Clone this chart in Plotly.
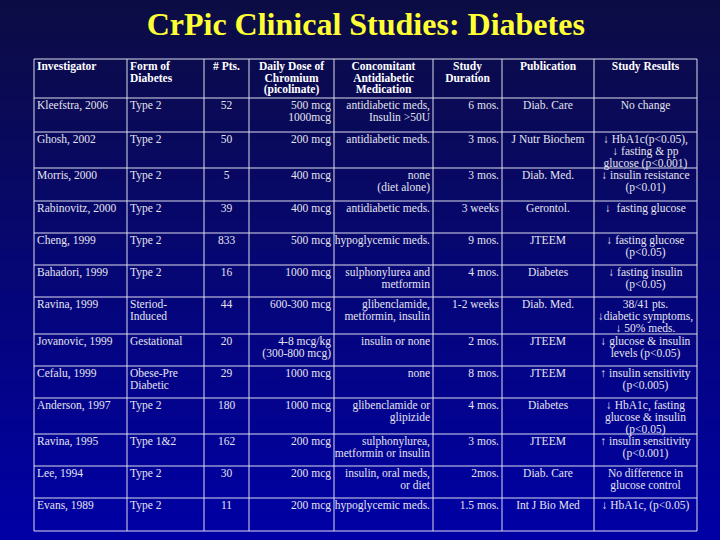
import plotly.graph_objects as go

# Table content
headers = ['Investigator', 'Form of\nDiabetes', '# Pts.', 'Daily Dose of\nChromium\n(picolinate)',
           'Concomitant\nAntidiabetic\nMedication', 'Study\nDuration', 'Publication', 'Study Results']

investigators = ['Kleefstra, 2006', 'Ghosh, 2002', 'Morris, 2000', 'Rabinovitz, 2000', 'Cheng, 1999',
                 'Bahadori, 1999', 'Ravina, 1999', 'Jovanovic, 1999', 'Cefalu, 1999', 'Anderson, 1997',
                 'Ravina, 1995', 'Lee, 1994', 'Evans, 1989']
forms = ['Type 2', 'Type 2', 'Type 2', 'Type 2', 'Type 2', 'Type 2', 'Steriod-\nInduced', 'Gestational',
         'Obese-Pre\nDiabetic', 'Type 2', 'Type 1&2', 'Type 2', 'Type 2']
patients = ['52', '50', '5', '39', '833', '16', '44', '20', '29', '180', '162', '30', '11']
doses = ['500 mcg\n1000mcg', '200 mcg', '400 mcg', '400 mcg', '500 mcg', '1000 mcg', '600-300 mcg',
         '4-8 mcg/kg\n(300-800 mcg)', '1000 mcg', '1000 mcg', '200 mcg', '200 mcg', '200 mcg']
medications = ['antidiabetic meds,\nInsulin >50U', 'antidiabetic meds.', 'none\n(diet alone)',
               'antidiabetic meds.', 'hypoglycemic meds.', 'sulphonylurea and\nmetformin',
               'glibenclamide,\nmetformin, insulin', 'insulin or none', 'none', 'glibenclamide or\nglipizide',
               'sulphonylurea,\nmetformin or insulin', 'insulin, oral meds,\nor diet', 'hypoglycemic meds.']
durations = ['6 mos.', '3 mos.', '3 mos.', '3 weeks', '9 mos.', '4 mos.', '1-2 weeks', '2 mos.', '8 mos.',
             '4 mos.', '3 mos.', '2mos.', '1.5 mos.']
publications = ['Diab. Care', 'J Nutr Biochem', 'Diab. Med.', 'Gerontol.', 'JTEEM', 'Diabetes', 'Diab. Med.',
                'JTEEM', 'JTEEM', 'Diabetes', 'JTEEM', 'Diab. Care', 'Int J Bio Med']
results = ['No change', '\u2193 HbA1c(p<0.05),\n\u2193 fasting & pp\nglucose (p<0.001)',
           '\u2193 insulin resistance\n(p<0.01)', '\u2193  fasting glucose', '\u2193 fasting glucose\n(p<0.05)',
           '\u2193 fasting insulin\n(p<0.05)', '38/41 pts.\n\u2193diabetic symptoms,\n\u2193 50% meds.',
           '\u2193 glucose & insulin\nlevels (p<0.05)', '\u2191 insulin sensitivity\n(p<0.005)',
           '\u2193 HbA1c, fasting\nglucose & insulin\n(p<0.05)', '\u2191 insulin sensitivity\n(p<0.001)',
           'No difference in\nglucose control', '\u2193 HbA1c, (p<0.05)']

columns = [investigators, forms, patients, doses, medications, durations, publications, results]

# Layout of the grid (pixels)
col_edges = [34, 127, 204, 249, 334, 433, 502, 594, 697]
body_align = ['left', 'left', 'center', 'right', 'right', 'right', 'center', 'center']
head_align = ['left', 'left', 'center', 'center', 'center', 'center', 'center', 'center']
table_top = 59
header_height = 39
row_heights = [34, 36, 33, 32, 32, 32, 37, 32, 32, 36, 32, 32, 33]
line_step = 12

row_tops = [table_top, table_top + header_height]
for h in row_heights:
    row_tops.append(row_tops[-1] + h)

fig = go.Figure()

# background gradient
n_bands = 54
top_rgb = (12, 12, 68)
bot_rgb = (0, 0, 165)
for i in range(n_bands):
    t = i / (n_bands - 1)
    c = tuple(int(round(a + (b - a) * t)) for a, b in zip(top_rgb, bot_rgb))
    fig.add_shape(type='rect', xref='x', yref='y', x0=0, x1=720,
                  y0=i * 540 / n_bands, y1=(i + 1) * 540 / n_bands + 0.5,
                  line=dict(width=0), fillcolor='rgb(%d,%d,%d)' % c, layer='below')

# grid lines
grid_color = '#dcdcec'
for x in col_edges:
    fig.add_shape(type='line', x0=x, x1=x, y0=row_tops[0], y1=row_tops[-1],
                  line=dict(color=grid_color, width=1))
for y in row_tops:
    fig.add_shape(type='line', x0=col_edges[0], x1=col_edges[-1], y0=y, y1=y,
                  line=dict(color=grid_color, width=1))

# collect cell text into traces by alignment
def add_cells(cells, top, align, first_offset, step):
    groups = {'left': ([], [], []), 'right': ([], [], []), 'center': ([], [], [])}
    for ci, txt in enumerate(cells):
        left, right = col_edges[ci], col_edges[ci + 1]
        a = align[ci]
        if a == 'left':
            x = left + 3
        elif a == 'right':
            x = right - 3
        else:
            x = (left + right) / 2
        for li, line in enumerate(txt.split('\n')):
            groups[a][0].append(x)
            groups[a][1].append(top + first_offset + li * step)
            groups[a][2].append(line)
    return groups

pos = {'left': 'middle right', 'right': 'middle left', 'center': 'middle center'}
head_font = dict(family='Liberation Serif', size=11.5, color='white')
body_font = dict(family='Liberation Serif', size=11.5, color='#e4e4ee')

all_groups = [(add_cells(headers, row_tops[0], head_align, 8.5, 11.5), True)]
for r in range(len(investigators)):
    cells = [col[r] for col in columns]
    all_groups.append((add_cells(cells, row_tops[r + 1], body_align, 8, line_step), False))

for is_head, font in [(True, head_font), (False, body_font)]:
    for a in ['left', 'right', 'center']:
        xs, ys, ts = [], [], []
        for g, h in all_groups:
            if h == is_head:
                xs += g[a][0]
                ys += g[a][1]
                ts += ['<b>%s</b>' % t if h else t for t in g[a][2]]
        fig.add_trace(go.Scatter(x=xs, y=ys, text=ts, mode='text', textposition=pos[a],
                                 textfont=font, hoverinfo='skip', showlegend=False))

fig.update_layout(
    width=720, height=540,
    margin=dict(l=0, r=0, t=0, b=0),
    paper_bgcolor='#0a0a5a', plot_bgcolor='rgba(0,0,0,0)',
    xaxis=dict(range=[0, 720], visible=False, fixedrange=True),
    yaxis=dict(range=[540, 0], visible=False, fixedrange=True),
    title=dict(text='<b>CrPic Clinical Studies: Diabetes</b>', x=0.508, xanchor='center',
               y=1 - 24 / 540, yanchor='middle',
               font=dict(family='Liberation Serif', size=32, color='#ffff33')),
)

# drop the default page margin so the slide fills the window
fig.write_html('out.html', config={'displayModeBar': False},
               post_script="document.body.style.margin='0';document.body.style.overflow='hidden';")
